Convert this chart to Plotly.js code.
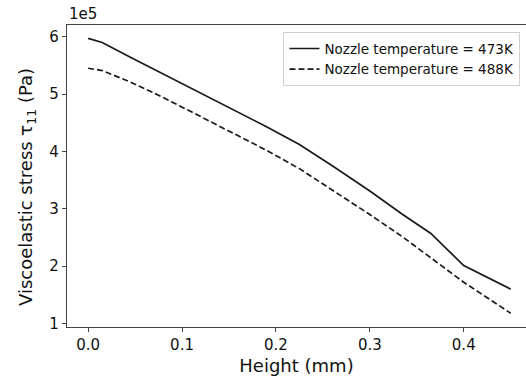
<!DOCTYPE html>
<html>
<head>
<meta charset="utf-8">
<script src="https://cdn.plot.ly/plotly-3.0.1.min.js"></script>
<style>
html,body{margin:0;padding:0;background:#fff;overflow:hidden;}
#chart{width:526px;height:385px;}
</style>
</head>
<body>
<div id="chart"></div>
<script>
// Height (mm)
const height_mm = [0, 0.015, 0.045, 0.075, 0.11, 0.15, 0.19, 0.225, 0.26, 0.30, 0.335, 0.365, 0.40, 0.45];
// Viscoelastic stress tau_11, in units of 1e5 Pa
const stress_473K = [5.97, 5.90, 5.64, 5.39, 5.09, 4.76, 4.43, 4.12, 3.75, 3.31, 2.90, 2.57, 2.01, 1.60];
const stress_488K = [5.45, 5.41, 5.21, 4.98, 4.69, 4.36, 4.02, 3.70, 3.33, 2.90, 2.51, 2.15, 1.72, 1.18];
const seriesNames = ["Nozzle temperature = 473K", "Nozzle temperature = 488K"];
const xTicks = [0.0, 0.1, 0.2, 0.3, 0.4];
const xTickText = ["0.0", "0.1", "0.2", "0.3", "0.4"];
const yTicks = [1, 2, 3, 4, 5, 6];
const yTickText = ["1", "2", "3", "4", "5", "6"];
const yTitle = "Viscoelastic stress τ<sub>11</sub> (Pa)";
const xTitle = "Height (mm)";
const scaleLabel = "1e5";

const FONT = "DejaVu Sans, Verdana, sans-serif";

const traces = [
  {x: height_mm, y: stress_473K, name: seriesNames[0], mode: "lines", type: "scatter",
   line: {color: "#1a1a1a", width: 1.7, dash: "solid"}},
  {x: height_mm, y: stress_488K, name: seriesNames[1], mode: "lines", type: "scatter",
   line: {color: "#1a1a1a", width: 1.7, dash: "6px,3px"}}
];

const layout = {
  width: 526, height: 385,
  margin: {l: 66.5, r: 0, t: 25, b: 58.3, pad: 0},
  paper_bgcolor: "#fff", plot_bgcolor: "#fff",
  font: {family: FONT, size: 15, color: "#111"},
  showlegend: true,
  legend: {x: 0.988, y: 0.976, xanchor: "right", yanchor: "top",
    bgcolor: "#fff", bordercolor: "#d0d0d0", borderwidth: 1,
    font: {family: FONT, size: 13.5, color: "#111"}, tracegroupgap: 0},
  xaxis: {range: [-0.0225, 0.4663], tickvals: xTicks, ticktext: xTickText,
    showgrid: false, zeroline: false, showline: true, mirror: true,
    linecolor: "#444", linewidth: 1.2, ticks: "outside", ticklen: 4, tickcolor: "#444",
    tickfont: {family: FONT, size: 15, color: "#111"},
    title: {text: xTitle, font: {family: FONT, size: 18, color: "#111"}, standoff: 6}},
  yaxis: {range: [0.94, 6.204], tickvals: yTicks, ticktext: yTickText,
    showgrid: false, zeroline: false, showline: true, mirror: false,
    linecolor: "#444", linewidth: 1.2, ticks: "outside", ticklen: 4, tickcolor: "#444",
    tickfont: {family: FONT, size: 15, color: "#111"}},
  annotations: [
    {text: scaleLabel, xref: "paper", yref: "paper", x: 0, y: 1,
     xanchor: "left", yanchor: "bottom", showarrow: false,
     font: {family: FONT, size: 15, color: "#111"}},
    {text: yTitle, xref: "paper", yref: "paper", x: 0, y: 0.5,
     xanchor: "center", yanchor: "middle", xshift: -40, yshift: -11, textangle: -90,
     showarrow: false, font: {family: FONT, size: 18, color: "#111"}}
  ]
};

Plotly.newPlot("chart", traces, layout, {displayModeBar: false, staticPlot: true});
</script>
</body>
</html>
